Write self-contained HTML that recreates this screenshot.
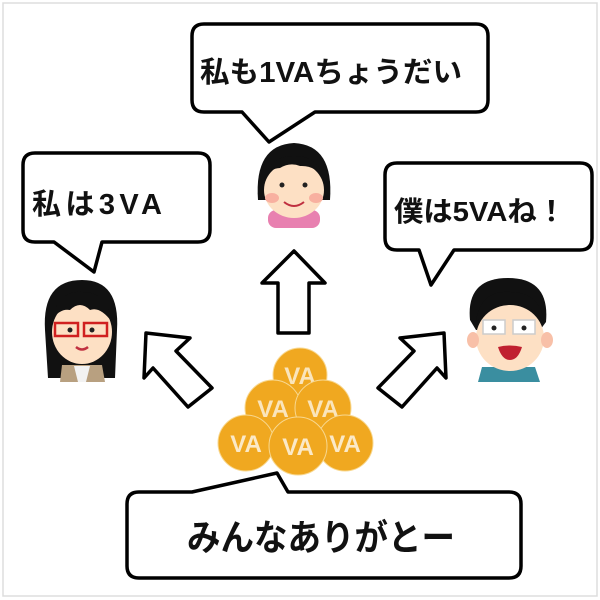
<!DOCTYPE html>
<html><head><meta charset="utf-8"><style>
html,body{margin:0;padding:0;background:#fff;}
svg{display:block;}
text{font-family:"Liberation Sans","Noto Sans CJK JP",sans-serif;font-weight:bold;}
</style></head><body>
<svg width="600" height="600" viewBox="0 0 600 600" xmlns="http://www.w3.org/2000/svg">
<rect x="0" y="0" width="600" height="600" fill="#fff"/>
<rect x="3" y="3" width="594" height="593" fill="none" stroke="#ddd" stroke-width="1.5"/>
<g fill="#fff" stroke="#000" stroke-width="3.5" stroke-linejoin="round">
<path d="M204,24 H476 Q488,24 488,36 V100 Q488,112 476,112 H315 L269,142 L242,112 H204 Q192,112 192,100 V36 Q192,24 204,24 Z"/>
<path d="M35,153 H198 Q210,153 210,165 V230 Q210,242 198,242 H102 L94,272 L54,242 H35 Q23,242 23,230 V165 Q23,153 35,153 Z"/>
<path d="M397,163 H580 Q592,163 592,175 V238 Q592,250 580,250 H454 L431,285 L419,250 H397 Q385,250 385,238 V175 Q385,163 397,163 Z"/>
<path d="M294,251 L325,283 L309,283 L309,333 L278,333 L278,283 L262,283 Z"/>
<path d="M146,333 L190,338 L176,351 L212,388 L188,407 L153,368 L144,378 Z"/>
<path d="M444,333 L400,338 L414,351 L378,388 L402,407 L437,368 L446,378 Z"/>
</g>
<text x="200" y="82" font-size="29" fill="#111" textLength="262" lengthAdjust="spacingAndGlyphs">私も1VAちょうだい</text>
<text x="32" y="214" font-size="29" fill="#111" textLength="130" lengthAdjust="spacing">私は3VA</text>
<text x="394" y="221" font-size="28" fill="#111" textLength="172" lengthAdjust="spacingAndGlyphs">僕は5VAね！</text>

<g>
<path d="M258,200 Q254,145 294,143 Q334,145 330,200 Z" fill="#111"/>
<rect x="268" y="210" width="52" height="18" rx="8" fill="#e880b0"/>
<ellipse cx="294" cy="190" rx="30" ry="28" fill="#fde0c4"/>
<path d="M264,180 Q270,155 294,156 Q318,155 324,180 Q316,165 300,166 Q290,162 280,168 Q270,168 264,180 Z" fill="#111"/>
<circle cx="282" cy="185" r="2.5" fill="#222"/><circle cx="305" cy="185" r="2.5" fill="#222"/>
<ellipse cx="272" cy="198" rx="7" ry="5" fill="#f8b0a0"/><ellipse cx="316" cy="198" rx="7" ry="5" fill="#f8b0a0"/>
<path d="M284,202 Q294,210 304,202" stroke="#c03040" stroke-width="2" fill="none"/>
</g>
<g>
<path d="M45,330 Q42,280 82,280 Q120,280 117,330 L115,378 L48,378 Z" fill="#111"/>
<path d="M60,382 L62,365 L102,365 L105,382 Z" fill="#b8a080"/>
<path d="M74,366 L90,366 L86,382 L78,382 Z" fill="#f2f2f2"/>
<ellipse cx="82" cy="332" rx="30" ry="32" fill="#fde0c4"/>
<path d="M52,320 Q58,290 82,292 Q108,292 112,322 Q100,306 90,310 Q80,300 70,310 Q60,308 52,320 Z" fill="#111"/>
<rect x="55" y="323" width="23" height="13" fill="none" stroke="#d02020" stroke-width="2.5"/>
<rect x="84" y="323" width="23" height="13" fill="none" stroke="#d02020" stroke-width="2.5"/>
<circle cx="70" cy="330" r="2.5" fill="#222"/><circle cx="92" cy="330" r="2.5" fill="#222"/>
<path d="M76,347 Q82,352 88,347" stroke="#c03040" stroke-width="2.5" fill="none"/>
</g>
<g>
<path d="M470,320 Q466,278 508,278 Q550,278 546,322 L540,330 L476,330 Z" fill="#111"/>
<path d="M478,382 L482,367 L535,367 L540,382 Z" fill="#3a8ea0"/>
<ellipse cx="510" cy="338" rx="34" ry="33" fill="#fde0c4"/>
<ellipse cx="473" cy="340" rx="6" ry="8" fill="#f8c0a8"/><ellipse cx="547" cy="340" rx="6" ry="8" fill="#f8c0a8"/>
<path d="M476,322 Q480,290 510,292 Q540,292 544,322 Q530,302 510,305 Q490,304 476,322 Z" fill="#111"/>
<rect x="483" y="320" width="22" height="14" fill="#fff" stroke="#ccc" stroke-width="1.5"/>
<rect x="513" y="320" width="22" height="14" fill="#fff" stroke="#ccc" stroke-width="1.5"/>
<circle cx="494" cy="328" r="2.5" fill="#222"/><circle cx="524" cy="328" r="2.5" fill="#222"/>
<path d="M498,347 Q510,344 522,347 Q518,360 510,360 Q502,360 498,347 Z" fill="#c02030"/>
</g>

<g font-size="24" text-anchor="middle">
<circle cx="300" cy="375" r="27" fill="#f0a820" stroke="#f8d890" stroke-width="1"/>
<text x="300" y="384" fill="#fff" opacity="0.7">VA</text>
<circle cx="273" cy="408" r="28" fill="#f0a820" stroke="#f8d890" stroke-width="1"/>
<text x="273" y="417" fill="#fff" opacity="0.7">VA</text>
<circle cx="323" cy="408" r="28" fill="#f0a820" stroke="#f8d890" stroke-width="1"/>
<text x="323" y="417" fill="#fff" opacity="0.7">VA</text>
<circle cx="345" cy="443" r="28" fill="#f0a820" stroke="#f8d890" stroke-width="1"/>
<text x="345" y="452" fill="#fff" opacity="0.75">VA</text>
<circle cx="246" cy="443" r="28" fill="#f0a820" stroke="#f8d890" stroke-width="1"/>
<text x="246" y="452" fill="#fff" opacity="0.75">VA</text>
<circle cx="298" cy="446" r="29" fill="#f0a820" stroke="#f8d890" stroke-width="1"/>
<text x="298" y="455" fill="#fff" opacity="0.75">VA</text>
</g>

<path d="M139,492 H192 L277,473 L288,492 H509 Q521,492 521,504 V566 Q521,578 509,578 H139 Q127,578 127,566 V504 Q127,492 139,492 Z" fill="#fff" stroke="#000" stroke-width="3.5" stroke-linejoin="round"/>
<text x="187" y="550" font-size="36" fill="#111" textLength="268" lengthAdjust="spacingAndGlyphs">みんなありがとー</text>
</svg>
</body></html>
